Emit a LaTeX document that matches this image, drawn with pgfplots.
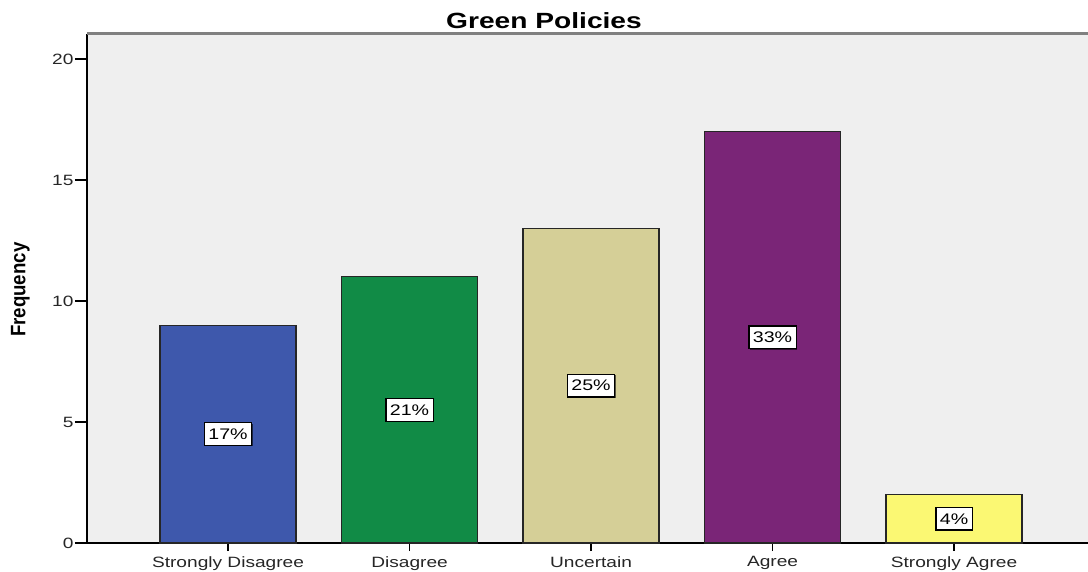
\documentclass[border=0pt]{standalone}
\usepackage{pgfplots}
\usepackage{pgfplotstable}
\pgfplotsset{compat=1.18}
\usetikzlibrary{shadows}
\usepackage{fontspec}
\setmainfont{Liberation Sans}[FakeStretch=1.28]
\newfontfamily\labfont{Liberation Sans}
\definecolor{bgc}{HTML}{EFEFEF}
\definecolor{c1}{HTML}{3E58AC}
\definecolor{c2}{HTML}{118B46}
\definecolor{c3}{HTML}{D5CF97}
\definecolor{c4}{HTML}{7A2577}
\definecolor{c5}{HTML}{FBF873}
\pgfplotstableread{
x freq pct
0 9 17
1 11 21
2 13 25
3 17 33
4 2 4
}\data
\begin{document}
\begin{tikzpicture}
\path[use as bounding box] (-65.25pt,-21pt) rectangle (750.75pt,407.25pt);
\begin{axis}[
  at={(0,0)}, anchor=south west,
  width=750.75pt, height=381.75pt, scale only axis,
  xmin=-0.777, xmax=4.738, ymin=0, ymax=21.03,
  axis x line*=bottom, axis y line*=left,
  axis line style={line width=1.5pt, black},
  axis background/.style={fill=bgc},
  xtick={0,1,2,3,4},
  xticklabels={Strongly Disagree, Disagree, Uncertain, Agree, Strongly Agree},
  ytick={0,5,10,15,20},
  tick align=outside,
  major tick length=9pt,
  xtick style={/pgfplots/major tick length=6pt, line width=1.2pt, black},
  ytick style={line width=1.2pt, black},
  ticklabel style={font=\fontsize{11.2}{13}\selectfont, text=black!85},
  yticklabel style={inner sep=1pt},
  xticklabel style={inner sep=1pt},
  /pgf/number format/assume math mode=true,
  after end axis/.code={\draw[gray, line width=2.25pt] (rel axis cs:0,1) -- (rel axis cs:1,1);},
]
\addplot[ybar, bar width=0.75, bar shift=0pt, fill=c1, draw=black!85, line width=1pt] coordinates {(0,9)};
\addplot[ybar, bar width=0.75, bar shift=0pt, fill=c2, draw=black!85, line width=1pt] coordinates {(1,11)};
\addplot[ybar, bar width=0.75, bar shift=0pt, fill=c3, draw=black!85, line width=1pt] coordinates {(2,13)};
\addplot[ybar, bar width=0.75, bar shift=0pt, fill=c4, draw=black!85, line width=1pt] coordinates {(3,17)};
\addplot[ybar, bar width=0.75, bar shift=0pt, fill=c5, draw=black!85, line width=1pt] coordinates {(4,2)};
\addplot[draw=none, mark=none, point meta=explicit symbolic,
  nodes near coords={\pgfplotspointmeta\%},
  every node near coord/.append style={anchor=center, fill=white, draw=black, line width=1pt,
    inner xsep=3pt, inner ysep=4.5pt, font=\fontsize{11.5}{13}\selectfont, text=black,
    drop shadow={shadow xshift=0.7pt, shadow yshift=-0.7pt, fill=black, opacity=0.6}}]
  table[x=x, y expr=\thisrow{freq}/2, meta=pct] {\data};
\end{axis}
\node[font=\fontsize{16.5}{19}\selectfont\bfseries] at (342.75pt,392pt) {Green Policies};
\node[rotate=90, font=\labfont\fontsize{14}{16}\selectfont\bfseries] at (-50pt,190pt) {\scalebox{1}[1.12]{Frequency}};
\end{tikzpicture}
\end{document}
